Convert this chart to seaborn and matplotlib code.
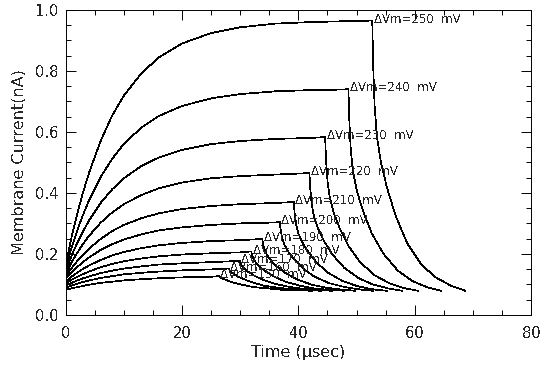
import numpy as np
import pandas as pd
import matplotlib
matplotlib.use("Agg")
import matplotlib.pyplot as plt
import seaborn as sns
from matplotlib.ticker import MultipleLocator

# ******************* data
dvm = [150, 160, 170, 180, 190, 200, 210, 220, 230, 240, 250]          # step size (mV)
t_off = [26.3, 28.0, 29.9, 31.9, 33.8, 36.8, 39.2, 41.9, 44.6, 48.6, 52.7]  # end of step (usec)

# sample times during the step, and times after the step ends (relative to t_off)
t_rise = [0, 1, 2, 3, 4, 6, 8, 10, 13, 16, 20, 25, 30, 36, 42, 48]
dt_decay = [0, 0.15, 0.4, 0.8, 1.5, 2.5, 4, 6, 8.5, 11, 13.5, 16]

# membrane current (nA) during the step
rise_150 = [0.082, 0.087, 0.091, 0.095, 0.099, 0.105, 0.109, 0.113, 0.117, 0.120, 0.123, 0.125]
rise_160 = [0.089, 0.096, 0.102, 0.108, 0.113, 0.121, 0.127, 0.133, 0.138, 0.142, 0.146, 0.149]
rise_170 = [0.096, 0.105, 0.113, 0.120, 0.126, 0.137, 0.145, 0.152, 0.159, 0.165, 0.169, 0.173]
rise_180 = [0.103, 0.115, 0.125, 0.134, 0.142, 0.156, 0.167, 0.176, 0.185, 0.192, 0.198, 0.202, 0.205]
rise_190 = [0.110, 0.125, 0.139, 0.151, 0.162, 0.180, 0.195, 0.206, 0.219, 0.228, 0.236, 0.242, 0.245]
rise_200 = [0.118, 0.139, 0.157, 0.174, 0.188, 0.213, 0.232, 0.247, 0.264, 0.277, 0.287, 0.295, 0.300, 0.303]
rise_210 = [0.126, 0.153, 0.177, 0.198, 0.217, 0.249, 0.275, 0.295, 0.317, 0.333, 0.347, 0.357, 0.363, 0.367]
rise_220 = [0.135, 0.172, 0.204, 0.233, 0.259, 0.302, 0.336, 0.363, 0.393, 0.415, 0.434, 0.448, 0.455, 0.460]
rise_230 = [0.145, 0.194, 0.237, 0.275, 0.309, 0.367, 0.412, 0.448, 0.488, 0.516, 0.541, 0.560, 0.570, 0.577, 0.580]
rise_240 = [0.155, 0.220, 0.278, 0.329, 0.375, 0.452, 0.512, 0.561, 0.614, 0.652, 0.685, 0.710, 0.724, 0.733, 0.737, 0.739]
rise_250 = [0.165, 0.254, 0.333, 0.403, 0.465, 0.570, 0.654, 0.719, 0.792, 0.844, 0.890, 0.924, 0.943, 0.955, 0.960, 0.963]

# membrane current (nA) after the step
decay_150 = [0.127, 0.125, 0.122, 0.118, 0.113, 0.106, 0.099, 0.091, 0.087, 0.082, 0.081, 0.079]
decay_160 = [0.152, 0.147, 0.141, 0.135, 0.127, 0.118, 0.107, 0.096, 0.089, 0.084, 0.081, 0.079]
decay_170 = [0.177, 0.169, 0.160, 0.151, 0.141, 0.129, 0.115, 0.102, 0.092, 0.085, 0.081, 0.079]
decay_180 = [0.208, 0.195, 0.183, 0.171, 0.157, 0.142, 0.125, 0.108, 0.095, 0.086, 0.082, 0.079]
decay_190 = [0.249, 0.231, 0.213, 0.196, 0.178, 0.159, 0.137, 0.116, 0.099, 0.089, 0.083, 0.079]
decay_200 = [0.305, 0.279, 0.252, 0.230, 0.206, 0.182, 0.152, 0.125, 0.104, 0.092, 0.084, 0.079]
decay_210 = [0.370, 0.334, 0.298, 0.266, 0.237, 0.206, 0.170, 0.137, 0.110, 0.094, 0.084, 0.079]
decay_220 = [0.465, 0.414, 0.362, 0.320, 0.282, 0.242, 0.197, 0.154, 0.120, 0.099, 0.087, 0.079]
decay_230 = [0.583, 0.511, 0.440, 0.384, 0.334, 0.284, 0.226, 0.173, 0.130, 0.104, 0.088, 0.079]
decay_240 = [0.741, 0.641, 0.544, 0.468, 0.403, 0.341, 0.268, 0.201, 0.145, 0.111, 0.091, 0.079]
decay_250 = [0.965, 0.823, 0.687, 0.584, 0.500, 0.419, 0.326, 0.235, 0.163, 0.122, 0.096, 0.079]

rises = [rise_150, rise_160, rise_170, rise_180, rise_190, rise_200,
         rise_210, rise_220, rise_230, rise_240, rise_250]
decays = [decay_150, decay_160, decay_170, decay_180, decay_190, decay_200,
          decay_210, decay_220, decay_230, decay_240, decay_250]

# long-form table for seaborn
rows = []
for v, toff, rise, decay in zip(dvm, t_off, rises, decays):
    times = t_rise[:len(rise)] + [toff + d for d in dt_decay]
    for t, i in zip(times, rise + decay):
        rows.append({"Time": t, "Current": i, "dVm": v})
df = pd.DataFrame(rows)

# ******************* plot
sns.set_style("ticks")
plt.rcParams["font.family"] = ["DejaVu Sans"]
plt.rcParams["text.antialiased"] = False

fig = plt.figure(figsize=(5.43, 3.67), dpi=100)
ax = fig.add_axes([0.121, 0.142, 0.857, 0.831])

sns.lineplot(data=df, x="Time", y="Current", hue="dVm",
             palette=["black"] * len(dvm), estimator=None, sort=False,
             legend=False, linewidth=0.5, antialiased=False, ax=ax)

for v, toff, decay in zip(dvm, t_off, decays):
    ax.annotate(f"\u0394Vm={v}  mV", xy=(toff, decay[0]), xytext=(1, -1.5),
                textcoords="offset points", ha="left", va="baseline",
                fontsize=8.5)

ax.set_xlim(0, 80)
ax.set_ylim(0, 1.0)
ax.xaxis.set_major_locator(MultipleLocator(20))
ax.xaxis.set_minor_locator(MultipleLocator(5))
ax.yaxis.set_major_locator(MultipleLocator(0.2))
ax.yaxis.set_minor_locator(MultipleLocator(0.05))
ax.yaxis.set_major_formatter(matplotlib.ticker.FormatStrFormatter("%.1f"))

ax.tick_params(which="both", direction="in", top=True, right=True,
               width=0.7, color="black", labelsize=10.5)
ax.tick_params(which="major", length=7)
ax.tick_params(which="minor", length=3.6)
ax.tick_params(axis="x", pad=8)
ax.tick_params(axis="y", pad=5)
for sp in ax.spines.values():
    sp.set_linewidth(0.7)
    sp.set_color("black")

ax.set_xlabel("Time (\u03bcsec)", fontsize=11.5, labelpad=3)
ax.set_ylabel("Membrane Current(nA)", fontsize=11.5, labelpad=6)

plt.savefig("out.png", dpi=100)
